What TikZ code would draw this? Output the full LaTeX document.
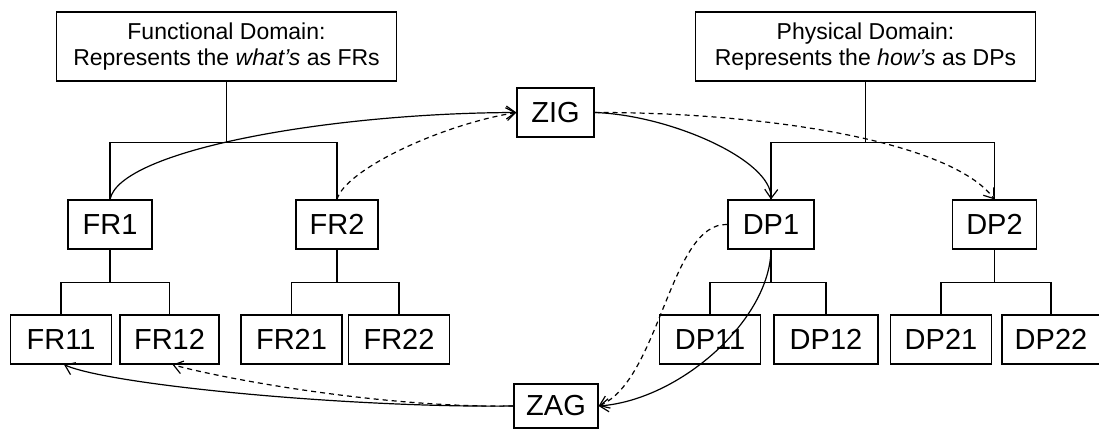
\documentclass[tikz,border=0pt]{standalone}
\usepackage{fontspec}
\setmainfont{Liberation Sans}
\usepackage{tikz}
\usetikzlibrary{arrows.meta}

\newcommand{\boxlabelfont}{\fontsize{29}{34}\selectfont}
\newcommand{\domainfont}{\fontsize{23}{26}\selectfont}

\tikzset{
  domainbox/.style = {draw, line width=1.2pt, inner sep=0pt, align=center,
    minimum width=340pt, minimum height=69pt, font=\domainfont},
  parentbox/.style = {draw, line width=1.2pt, inner sep=0pt,
    minimum width=84pt, minimum height=49pt, font=\boxlabelfont},
  leafbox/.style = {draw, line width=1.2pt, inner sep=0pt,
    minimum width=101pt, minimum height=49pt, font=\boxlabelfont},
  treeline/.style = {line width=1.5pt},
  zigline/.style = {line width=1.2pt, -{Straight Barb[length=9pt,width=13pt]}},
  zagdash/.style = {zigline, dash pattern=on 5pt off 4pt}
}

\begin{document}
\begin{tikzpicture}[x=1pt, y=-1pt]
\useasboundingbox (0,0) rectangle (1099,429);

% domain boxes on top
\path
(226.5,46.5) node [domainbox] (fd) {Functional Domain:\\Represents the \textit{what’s} as FRs}
(865.5,46.5) node [domainbox] (pd) {Physical Domain:\\Represents the \textit{how’s} as DPs};

% zig and zag boxes
\path
(555.5,112.5) node [parentbox, minimum width=77pt] (zig) {ZIG}
(556,406) node [parentbox, minimum height=44pt] (zag) {ZAG};

% first level
\path
(110,224.5) node [parentbox] (fr1) {FR1}
(337,224.5) node [parentbox, minimum width=82pt] (fr2) {FR2}
(771,224.5) node [parentbox, minimum width=86pt] (dp1) {DP1}
(994.5,224.5) node [parentbox] (dp2) {DP2};

% second level
\path
(61,339.5) node [leafbox] (fr11) {FR11}
(169.5,339.5) node [leafbox, minimum width=99pt] (fr12) {FR12}
(291.5,339.5) node [leafbox] (fr21) {FR21}
(399,339.5) node [leafbox] (fr22) {FR22}
(710,339.5) node [leafbox] (dp11) {DP11}
(826,339.5) node [leafbox, minimum width=104pt] (dp12) {DP12}
(941,339.5) node [leafbox] (dp21) {DP21}
(1051,339.5) node [leafbox, minimum width=98pt] (dp22) {DP22};

%% tree lines
\draw [treeline] (fd.south) -- ++(0,61) coordinate (fdjoin);
\draw [treeline] (fr1.north) |- (fdjoin) -| (fr2.north);
\draw [treeline] (pd.south) -- ++(0,61) coordinate (pdjoin);
\draw [treeline] (dp1.north) |- (pdjoin) -| (dp2.north);

\foreach \parent/\lchild/\rchild in {fr1/fr11/fr12, fr2/fr21/fr22, dp1/dp11/dp12, dp2/dp21/dp22}
  {
    \draw [treeline] (\parent.south) -- ++(0,33) coordinate (\parent join);
    \draw [treeline] (\lchild.north) |- (\parent join) -| (\rchild.north);
  }

%% zig from the functional to the physical domain
\draw [zigline] (fr1.north) .. controls (120,150) and (330,113) .. (zig.west);
\draw [zagdash] (fr2.north) .. controls (345,170) and (440,125) .. (zig.west);
\draw [zigline] (zig.east) .. controls (670,115) and (772,160) .. (dp1.north);
\draw [zagdash] (zig.east) .. controls (760,112) and (950,140) .. (dp2.north);

%% zag back again
\draw [zagdash] (dp1.west) .. controls (670,222) and (660,380) .. (zag.east);
\draw [zigline] (dp1.south) .. controls (770,320) and (680,400) .. (zag.east);
\draw [zigline] (zag.west) .. controls (350,408) and (110,385) .. ([xshift=3pt]fr11.south);
\draw [zagdash] (zag.west) .. controls (380,408) and (220,378) .. ([xshift=3pt]fr12.south);

\end{tikzpicture}
\end{document}
